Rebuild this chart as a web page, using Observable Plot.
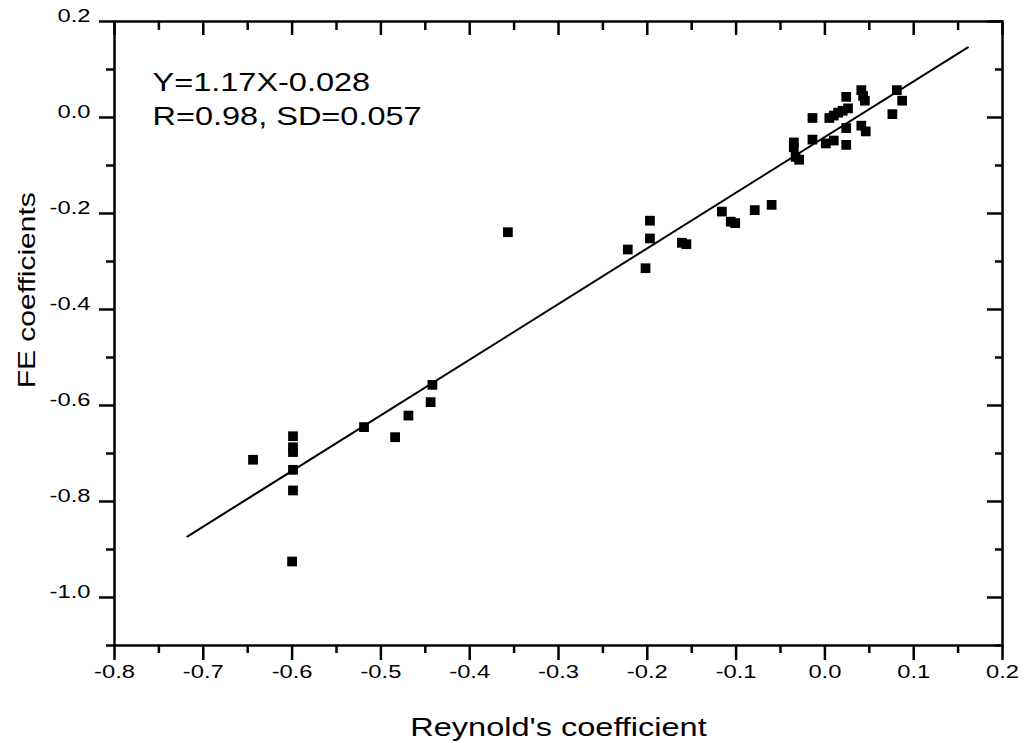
<!DOCTYPE html>
<html><head><meta charset="utf-8">
<script src="https://cdn.jsdelivr.net/npm/d3@7"></script>
<script src="https://cdn.jsdelivr.net/npm/@observablehq/plot@0.6"></script>
<style>
html,body{margin:0;padding:0;background:#fff;}
#chart svg{display:block;}
</style>
</head><body><div id="chart"></div>
<script>
// Reynold's coefficient (x) vs FE coefficients (y)
const reynolds = [0.024, 0.041, 0.043, 0.045, 0.081, 0.087, 0.076, -0.014, 0.005, 0.010, 0.015, 0.020,
  0.026, 0.024, 0.041, 0.046, 0.024, -0.014, 0.001, 0.010, -0.035, -0.035, -0.033, -0.029,
  -0.197, -0.197, -0.222, -0.202, -0.161, -0.156, -0.116, -0.106, -0.101, -0.079, -0.060, -0.357,
  -0.644, -0.599, -0.599, -0.599, -0.599, -0.599, -0.600, -0.519, -0.484, -0.469, -0.444, -0.442];
const fe = [0.043, 0.057, 0.045, 0.035, 0.057, 0.035, 0.007, -0.001, -0.001, 0.004, 0.010, 0.014,
  0.019, -0.022, -0.017, -0.029, -0.057, -0.046, -0.054, -0.048, -0.052, -0.062, -0.082, -0.088,
  -0.215, -0.252, -0.275, -0.314, -0.261, -0.264, -0.196, -0.217, -0.220, -0.193, -0.182, -0.239,
  -0.713, -0.664, -0.687, -0.697, -0.734, -0.777, -0.925, -0.645, -0.666, -0.621, -0.593, -0.557];
// regression line end points
const fitX = [-0.718, 0.161];
const fitY = [-0.873, 0.146];
// ticks
const xTickValues = [-0.8, -0.7, -0.6, -0.5, -0.4, -0.3, -0.2, -0.1, 0.0, 0.1, 0.2];
const xMinorValues = [-0.75, -0.65, -0.55, -0.45, -0.35, -0.25, -0.15, -0.05, 0.05, 0.15];
const yTickValues = [0.2, 0.0, -0.2, -0.4, -0.6, -0.8, -1.0];
const yMinorValues = [0.1, -0.1, -0.3, -0.5, -0.7, -0.9, -1.1];
const xTitle = "Reynold's coefficient";
const yTitle = "FE coefficients";
const annotationLines = ["Y=1.17X-0.028", "R=0.98, SD=0.057"];

const points = reynolds.map((x, i) => ({x, y: fe[i]}));
const fit = fitX.map((x, i) => ({x, y: fitY[i]}));
const fmt = d => (Math.abs(d) < 1e-9 ? 0 : d).toFixed(1);
const blank = () => "";
const FONT = "'Liberation Sans', Arial, Helvetica, sans-serif";
const ink = "#000";
const SW = 2.5;

const chart = Plot.plot({
  width: 1026, height: 743,
  marginLeft: 114, marginRight: 24, marginTop: 21, marginBottom: 98,
  style: {fontFamily: FONT, background: "#fff", color: ink},
  x: {domain: [-0.8, 0.2]},
  y: {domain: [-1.1, 0.2]},
  marks: [
    // bottom axis
    Plot.axisX({anchor: "bottom", ticks: xTickValues, tickSize: 15, tickPadding: 17, tickFormat: fmt, fontSize: 19, strokeWidth: SW, label: null}),
    Plot.axisX({anchor: "bottom", ticks: xMinorValues, tickSize: 8, tickFormat: blank, strokeWidth: SW, label: null}),
    // top axis (inward)
    Plot.axisX({anchor: "top", ticks: xTickValues, tickSize: -13, tickFormat: blank, strokeWidth: SW, label: null}),
    Plot.axisX({anchor: "top", ticks: xMinorValues, tickSize: -8, tickFormat: blank, strokeWidth: SW, label: null}),
    // left axis
    Plot.axisY({anchor: "left", ticks: yTickValues, tickSize: 15, tickPadding: 9, tickFormat: fmt, fontSize: 19, strokeWidth: SW, label: null}),
    Plot.axisY({anchor: "left", ticks: yMinorValues, tickSize: 8, tickFormat: blank, strokeWidth: SW, label: null}),
    // right axis (inward)
    Plot.axisY({anchor: "right", ticks: yTickValues, tickSize: -16, tickFormat: blank, strokeWidth: SW, label: null}),
    Plot.axisY({anchor: "right", ticks: yMinorValues, tickSize: -8, tickFormat: blank, strokeWidth: SW, label: null}),
    Plot.frame({stroke: ink, strokeWidth: SW}),
    Plot.line(fit, {x: "x", y: "y", stroke: ink, strokeWidth: 2}),
    Plot.dot(points, {x: "x", y: "y", symbol: "square", r: 5.5, fill: ink, stroke: "none"}),
    Plot.text([xTitle], {text: d => d, frameAnchor: "bottom", dy: 90, lineAnchor: "bottom", fontSize: 26, fill: ink}),
    Plot.text([yTitle], {text: d => d, frameAnchor: "left", y: () => -0.36, dx: -80, rotate: -90, textAnchor: "middle", lineAnchor: "middle", fontSize: 24, fill: ink}),
    Plot.text([annotationLines[0]], {text: d => d, frameAnchor: "top-left", dx: 38, dy: 69, textAnchor: "start", lineAnchor: "bottom", fontSize: 26, fill: ink}),
    Plot.text([annotationLines[1]], {text: d => d, frameAnchor: "top-left", dx: 38, dy: 103, textAnchor: "start", lineAnchor: "bottom", fontSize: 26, fill: ink})
  ]
});

// widen glyphs horizontally (the original uses a wide sans face)
const S = 1.25;
chart.querySelectorAll("text").forEach(t => {
  if (!t.textContent) return;
  const x = +t.getAttribute("x") || 0, y = +t.getAttribute("y") || 0;
  t.removeAttribute("x"); t.removeAttribute("y");
  const tr = t.getAttribute("transform") || "";
  t.setAttribute("transform", `${tr} translate(${x},${y}) scale(${S},1)`);
});
document.getElementById("chart").appendChild(chart);
</script>
</body></html>
